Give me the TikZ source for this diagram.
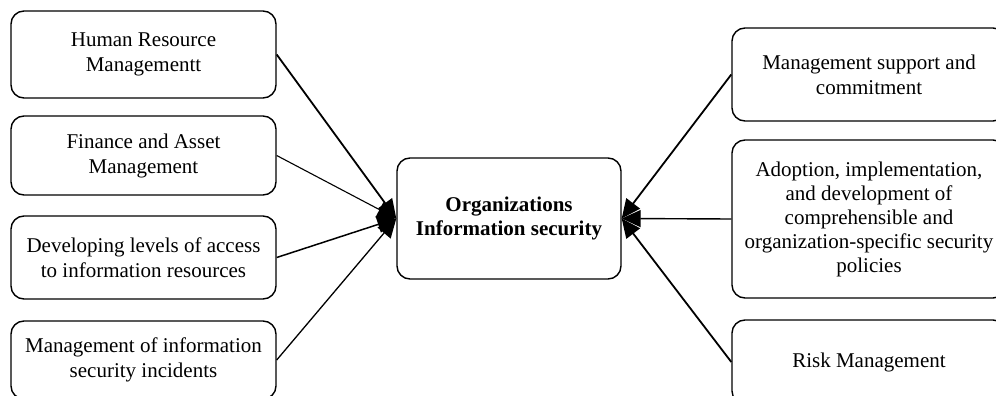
\documentclass[tikz,border=0pt]{standalone}
\usepackage{fontspec}
\setmainfont{Liberation Serif}
\usetikzlibrary{arrows.meta}
\begin{document}
\begin{tikzpicture}[x=1pt,y=-1pt,
  box/.style={draw, line width=1.4pt, rounded corners=13pt, align=center,
    font=\fontsize{21}{25}\selectfont, inner sep=0pt},
  link/.style={-{Triangle[length=19pt,width=17pt]}, line width=1.8pt},
  thinlink/.style={link, line width=1.1pt}]
\useasboundingbox (0,0) rectangle (996,396);
\clip (0,0) rectangle (996,396);

% left column
\node[box, minimum width=265pt, minimum height=87pt] (hr) at (143.5,54.5)
  {Human Resource\\Managementt};
\node[box, minimum width=265pt, minimum height=79pt] (fin) at (143.5,155.5)
  {Finance and Asset\\Management};
\node[box, minimum width=265pt, minimum height=83pt] (acc) at (143.5,257.5)
  {Developing levels of access\\to information resources};
\node[box, minimum width=265pt, minimum height=78pt] (inc) at (143.5,360)
  {Management of information\\security incidents};

% centre
\node[box, minimum width=224pt, minimum height=121pt,
  font=\fontsize{21}{24}\selectfont\bfseries] (org) at (509,218.5)
  {Organizations\\Information security};

% right column
\node[box, minimum width=274pt, minimum height=93pt] (sup) at (869,74.5)
  {Management support and\\commitment};
\node[box, minimum width=274pt, minimum height=158pt,
  font=\fontsize{21}{24}\selectfont] (pol) at (869,219)
  {Adoption, implementation,\\and development of\\comprehensible and\\organization-specific security\\policies};
\node[box, minimum width=274pt, minimum height=84pt] (risk) at (869,362)
  {Risk Management};

% connectors
\draw[link] (hr.east) -- (org.west);
\draw[thinlink] (fin.east) -- (org.west);
\draw[link, line width=1.5pt] (acc.east) -- (org.west);
\draw[thinlink, line width=1.3pt] (inc.east) -- (org.west);
\draw[link] (sup.west) -- (org.east);
\draw[thinlink, line width=1.4pt] (pol.west) -- (org.east);
\draw[link] (risk.west) -- (org.east);
\end{tikzpicture}
\end{document}
